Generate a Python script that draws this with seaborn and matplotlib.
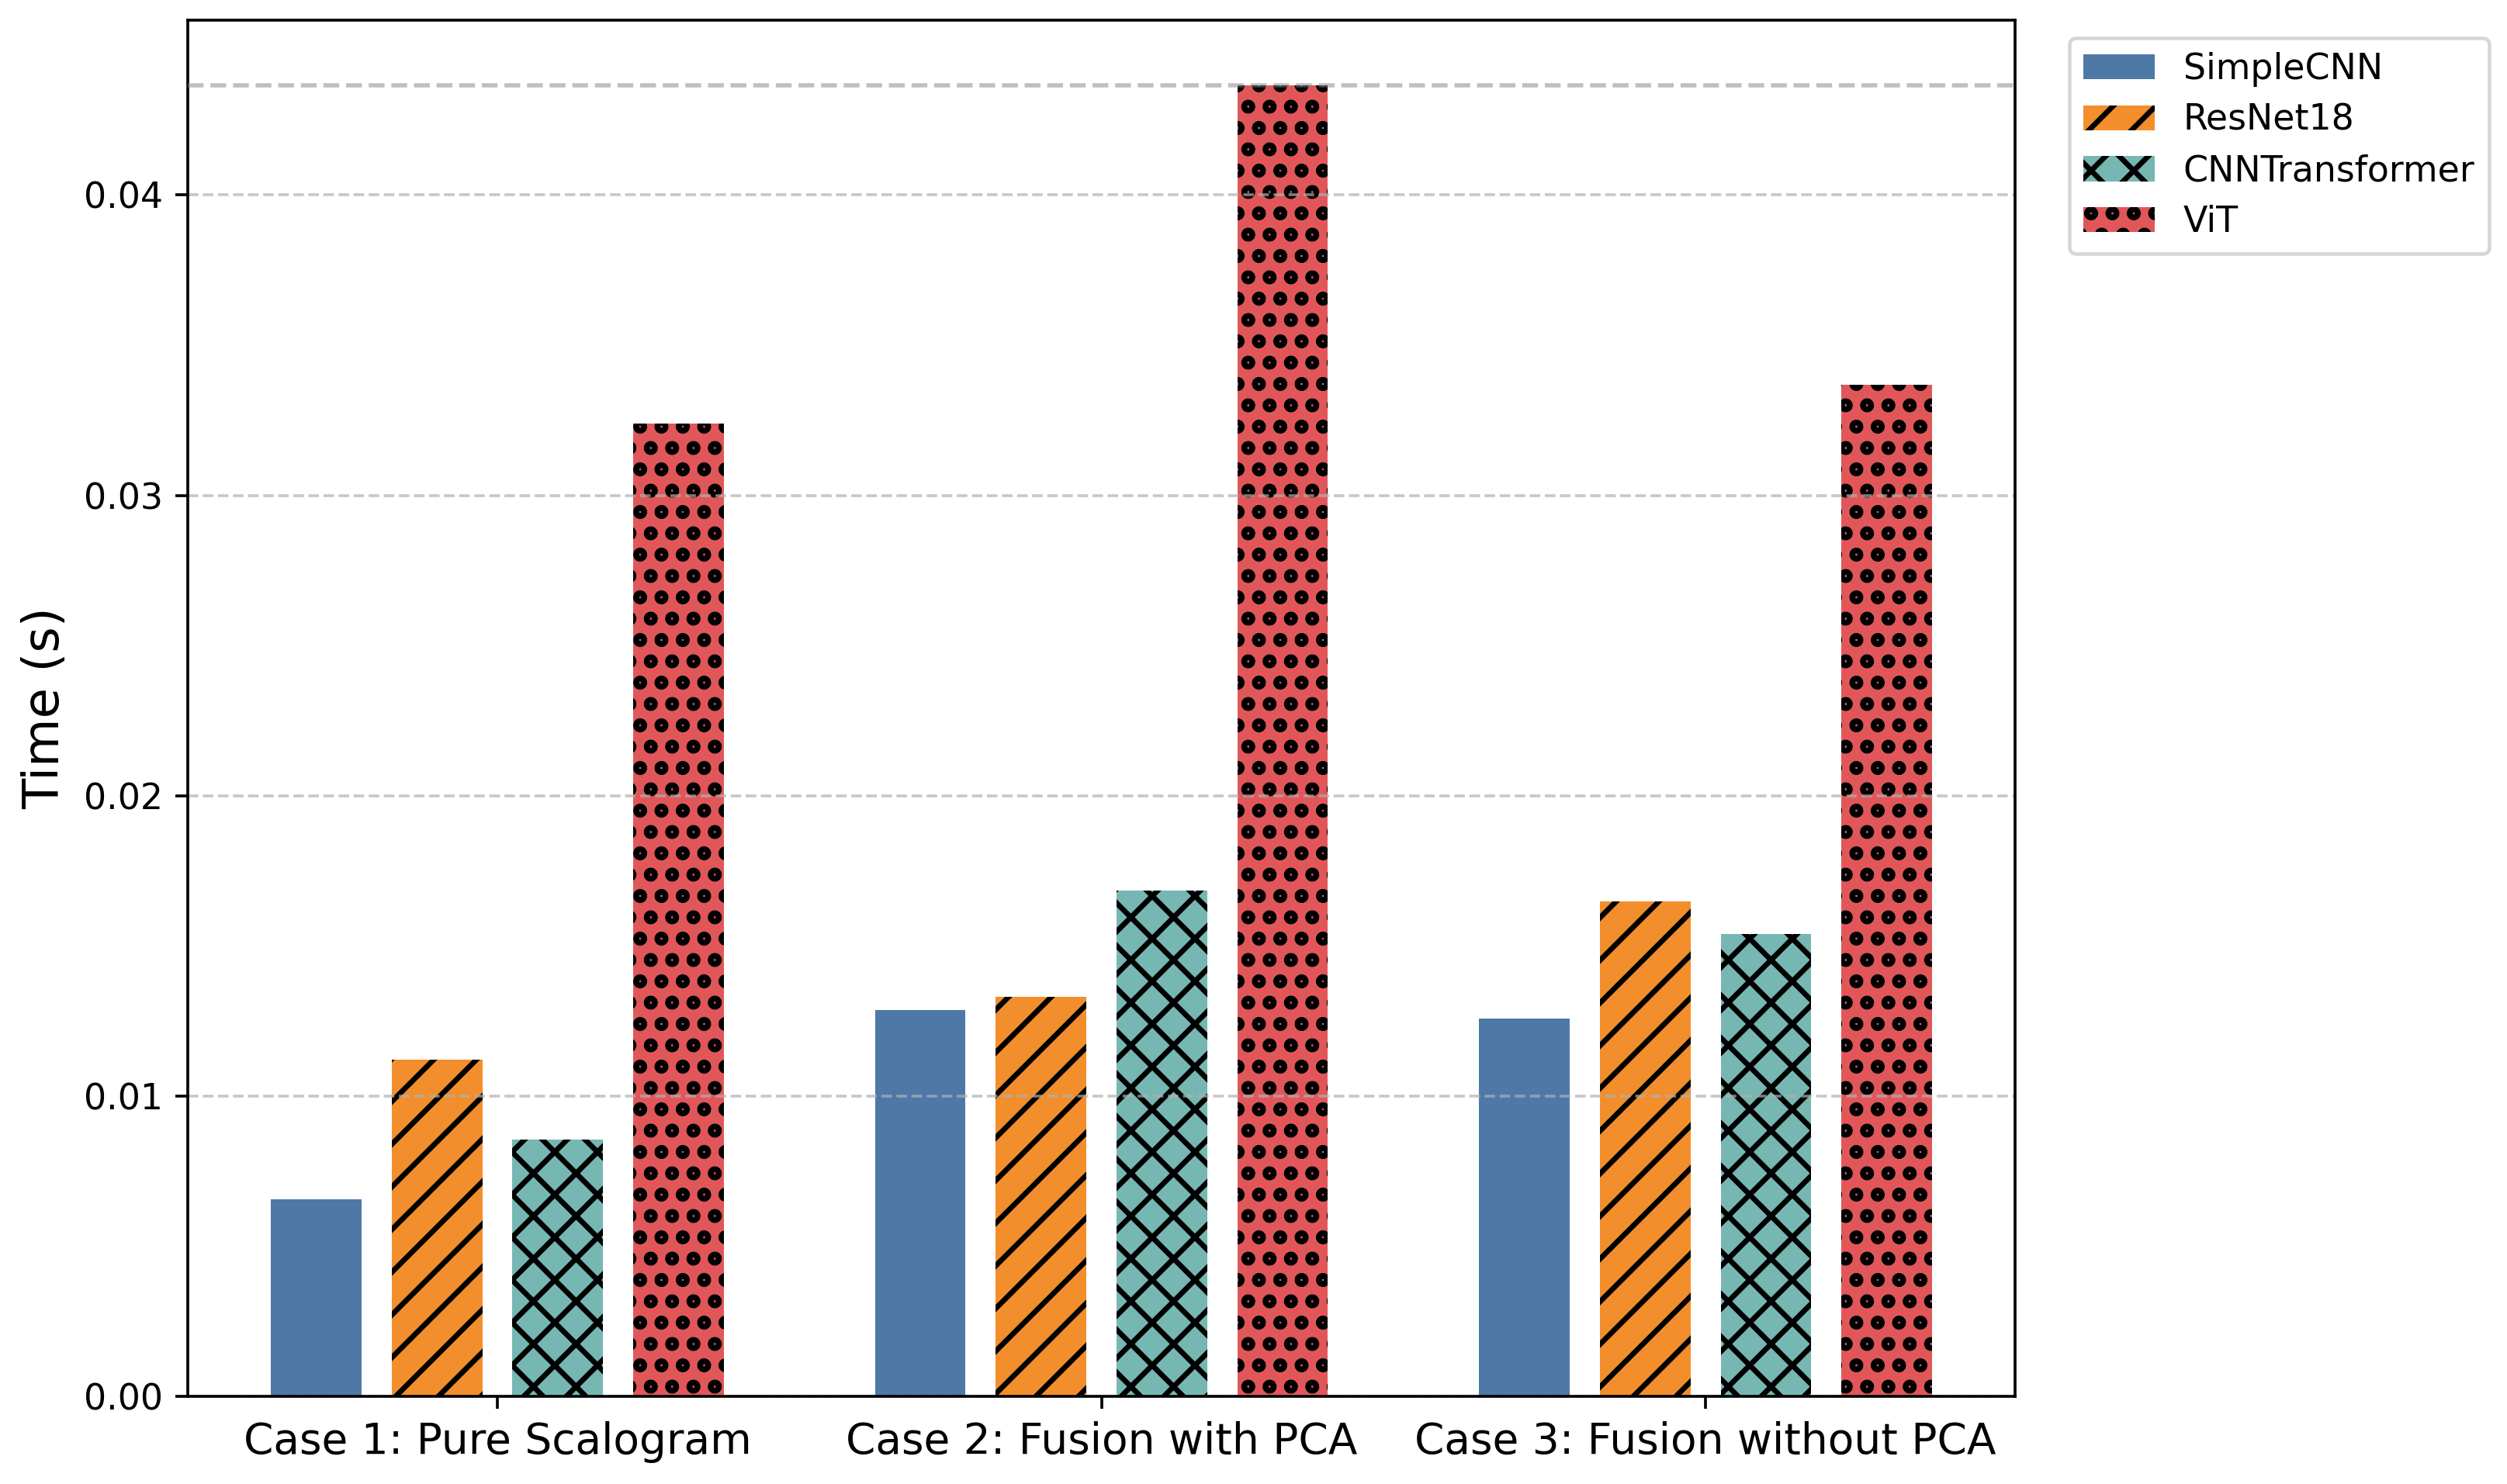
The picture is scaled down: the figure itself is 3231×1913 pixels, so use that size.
import matplotlib
matplotlib.use("Agg")
import matplotlib.pyplot as plt
import pandas as pd
import seaborn as sns

# Inference time per model for each input case
cases = ["Case 1: Pure Scalogram", "Case 2: Fusion with PCA", "Case 3: Fusion without PCA"]
models = ["SimpleCNN", "ResNet18", "CNNTransformer", "ViT"]
simplecnn = [0.00656, 0.01286, 0.01257]
resnet18 = [0.01121, 0.01330, 0.01647]
cnntransformer = [0.00855, 0.01683, 0.01539]
vit = [0.03238, 0.04364, 0.03369]

colors = ["#4e79a7", "#f28e2b", "#76b7b2", "#e15759"]
hatches = ["", "//", "xx", "oo"]

series = [simplecnn, resnet18, cnntransformer, vit]
rows = []
for model, values in zip(models, series):
    for case, v in zip(cases, values):
        rows.append({"Case": case, "Model": model, "Time": v})
df = pd.DataFrame(rows)

plt.rcParams["hatch.linewidth"] = 1.5

fig, ax = plt.subplots(figsize=(3231 / 330, 1913 / 330), dpi=330)
sns.barplot(
    data=df, x="Case", y="Time", hue="Model",
    order=cases, hue_order=models, palette=colors, saturation=1,
    errorbar=None, gap=0.25, linewidth=0, edgecolor="black",
    ax=ax, legend=False,
)

for container, hatch in zip(ax.containers, hatches):
    for bar in container:
        bar.set_hatch(hatch)

# reference line at the slowest model
ymax = df["Time"].max()
ax.axhline(ymax, color="gray", linestyle="--", linewidth=1.2, alpha=0.5, zorder=3)
ax.set_ylim(0, ymax * 1.05)
ax.set_xlim(-0.5125, 2.5125)

ax.grid(axis="y", linestyle="--", alpha=0.7)
ax.set_xlabel("")
ax.set_ylabel("Time (s)", fontsize=14)
ax.tick_params(axis="x", labelsize=12)
ax.tick_params(axis="y", labelsize=10)

ax.legend(ax.containers, models, loc="upper left", bbox_to_anchor=(1.02, 1),
          fontsize=10, labelspacing=0.45)

fig.subplots_adjust(left=0.0749, right=0.8038, top=0.9864, bottom=0.0591)
fig.savefig("out.png", dpi=330)
plt.close(fig)
